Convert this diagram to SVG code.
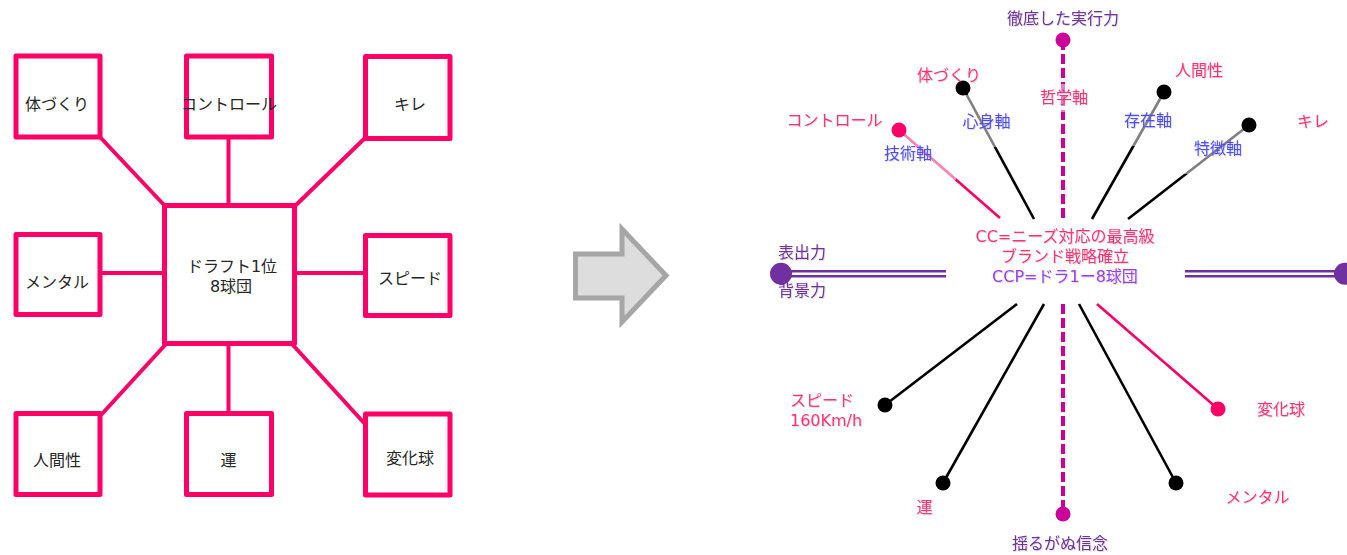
<svg xmlns="http://www.w3.org/2000/svg" width="1347" height="555" viewBox="0 0 1347 555">
<defs>
<style>
text{font-family:"DejaVu Sans","Noto Sans CJK JP",sans-serif;dominant-baseline:central}
.box{fill:#fff;stroke:#FF0066;stroke-width:5;stroke-linejoin:round}
.lt{font-size:16px;fill:#262626;text-anchor:middle}
.lc{stroke:#FF0066;stroke-width:4;fill:none}
.pk{fill:#FF3377}
.bl{fill:#4D4DFF}
.pu{fill:#7030A0}
.rt{font-size:16px;text-anchor:middle;filter:url(#sh)}
.ln{stroke:#000;stroke-width:2.6;fill:none}
.lnp{stroke:#FF0066;stroke-width:2.6;fill:none}
.dash{stroke:#CC0099;stroke-width:4;stroke-dasharray:10 4;fill:none}
.dbl{stroke:#7030A0;stroke-width:2.6;fill:none}
.bg{fill:#fff;fill-opacity:0.5}
</style>
<filter id="sh" x="-10%" y="-30%" width="130%" height="170%">
<feDropShadow dx="0.8" dy="0.8" stdDeviation="0.7" flood-color="#888" flood-opacity="0.35"/>
</filter>
</defs>
<rect width="1347" height="555" fill="#fff"/>

<!-- left diagram connectors -->
<g id="left-connectors">
<line class="lc" x1="100" y1="137" x2="165" y2="206"/>
<line class="lc" x1="228.5" y1="137" x2="228.5" y2="205"/>
<line class="lc" x1="365" y1="138" x2="295" y2="206"/>
<line class="lc" x1="100" y1="273" x2="164" y2="273"/>
<line class="lc" x1="295" y1="273" x2="365" y2="273"/>
<line class="lc" x1="166" y1="344" x2="101" y2="415"/>
<line class="lc" x1="228.5" y1="343" x2="228.5" y2="413"/>
<line class="lc" x1="292" y1="344" x2="365" y2="424"/>
</g>

<g id="l-taidukuri"><rect class="box" x="16" y="56" width="84" height="81"/><text class="lt" x="57" y="104.5">体づくり</text></g>
<g id="l-control"><rect class="box" x="186.5" y="56" width="85" height="81"/><text class="lt" x="229" y="104.5">コントロール</text></g>
<g id="l-kire"><rect class="box" x="365.5" y="56.5" width="84.5" height="82"/><text class="lt" x="410" y="104">キレ</text></g>
<g id="l-center"><rect class="box" x="164.5" y="205.5" width="130" height="138"/><text class="lt" x="232" y="266">ドラフト1位</text><text class="lt" x="231" y="286">8球団</text></g>
<g id="l-mental"><rect class="box" x="16" y="234.5" width="84" height="80"/><text class="lt" x="57" y="282">メンタル</text></g>
<g id="l-speed"><rect class="box" x="365.5" y="235.5" width="84.5" height="80"/><text class="lt" x="410" y="278">スピード</text></g>
<g id="l-ningensei"><rect class="box" x="16" y="413.5" width="84" height="81"/><text class="lt" x="57" y="460">人間性</text></g>
<g id="l-un"><rect class="box" x="186.5" y="413.5" width="85" height="81"/><text class="lt" x="228.5" y="460">運</text></g>
<g id="l-henkakyu"><rect class="box" x="365.5" y="414" width="84.5" height="81"/><text class="lt" x="410" y="458">変化球</text></g>

<!-- transition arrow -->
<g id="arrow">
<polygon points="575.5,254 622,254 622,229 666,275.5 622,322 622,298 575.5,298" fill="#DDDDDD" stroke="#A6A6A6" stroke-width="5" stroke-linejoin="miter"/>
</g>

<!-- right diagram connectors -->
<g id="right-connectors">
<line class="dash" x1="1063" y1="40" x2="1063" y2="218"/>
<line class="dash" x1="1063" y1="304" x2="1063" y2="514"/>
<line class="lnp" x1="899" y1="130" x2="1000" y2="218"/>
<line class="ln" x1="963" y1="88" x2="1034" y2="219"/>
<line class="ln" x1="1164" y1="92" x2="1092" y2="219"/>
<line class="ln" x1="1249" y1="125" x2="1128" y2="219"/>
<line class="ln" x1="1017" y1="304" x2="885" y2="405"/>
<line class="ln" x1="1044" y1="304" x2="943" y2="483"/>
<line class="ln" x1="1079" y1="304" x2="1176" y2="483"/>
<line class="lnp" x1="1097" y1="304" x2="1218" y2="409"/>
<line class="dbl" x1="781" y1="271.2" x2="946" y2="271.2"/>
<line class="dbl" x1="781" y1="276.2" x2="946" y2="276.2"/>
<line class="dbl" x1="1185" y1="271.2" x2="1347" y2="271.2"/>
<line class="dbl" x1="1185" y1="276.2" x2="1347" y2="276.2"/>
</g>

<!-- axis labels -->
<g id="r-axis-tetsugaku"><rect class="bg" x="1036" y="84" width="56" height="28"/><text class="rt pk" x="1064" y="97">哲学軸</text></g>
<g id="r-axis-gijutsu"><rect class="bg" x="862" y="128" width="94" height="52"/><text class="rt bl" x="908" y="153">技術軸</text></g>
<g id="r-axis-shinshin"><rect class="bg" x="950" y="95" width="72" height="52"/><text class="rt bl" x="986.5" y="121">心身軸</text></g>
<g id="r-axis-sonzai"><rect class="bg" x="1110" y="94" width="76" height="52"/><text class="rt bl" x="1148" y="120">存在軸</text></g>
<g id="r-axis-tokuchou"><rect class="bg" x="1182" y="122" width="76" height="52"/><text class="rt bl" x="1218" y="148">特徴軸</text></g>

<!-- endpoint nodes -->
<g id="r-jikkou"><circle cx="1063" cy="40" r="7.5" fill="#CC0099"/><text class="rt pu" x="1063" y="18">徹底した実行力</text></g>
<g id="r-shinnen"><circle cx="1063" cy="514" r="7.5" fill="#CC0099"/><text class="rt pu" x="1060" y="543">揺るがぬ信念</text></g>
<g id="r-control"><circle cx="899" cy="130" r="7.5" fill="#FF0066"/><text class="rt pk" x="834.5" y="120">コントロール</text></g>
<g id="r-taidukuri"><circle cx="963" cy="88" r="7.5" fill="#000"/><text class="rt pk" x="949" y="75">体づくり</text></g>
<g id="r-ningensei"><circle cx="1164" cy="92" r="7.5" fill="#000"/><text class="rt pk" x="1199" y="70">人間性</text></g>
<g id="r-kire"><circle cx="1249" cy="125" r="7.5" fill="#000"/><text class="rt pk" x="1313" y="121">キレ</text></g>
<g id="r-hyoushutsu"><circle cx="781" cy="273.7" r="11" fill="#7030A0"/><text class="rt pu" x="778" y="252" style="text-anchor:start">表出力</text><text class="rt pu" x="778" y="290" style="text-anchor:start">背景力</text></g>
<g id="r-right"><circle cx="1345" cy="273.7" r="11" fill="#7030A0"/></g>
<g id="r-speed"><circle cx="885" cy="405" r="7.5" fill="#000"/><text class="rt pk" x="790" y="400" style="text-anchor:start">スピード</text><text class="rt pk" x="790" y="420" style="text-anchor:start">160Km/h</text></g>
<g id="r-un"><circle cx="943" cy="483" r="7.5" fill="#000"/><text class="rt pk" x="924.5" y="507">運</text></g>
<g id="r-mental"><circle cx="1176" cy="483" r="7.5" fill="#000"/><text class="rt pk" x="1257.5" y="497">メンタル</text></g>
<g id="r-henkakyu"><circle cx="1218" cy="409" r="7.5" fill="#FF0066"/><text class="rt pk" x="1281" y="409">変化球</text></g>

<!-- center -->
<g id="r-center">
<text class="rt pk" x="1065" y="236">CC=ニーズ対応の最高級</text>
<text class="rt pk" x="1065" y="256">ブランド戦略確立</text>
<text class="rt" x="1065" y="276" style="fill:#9C3CF5">CCP=ドラ1ー8球団</text>
</g>
</svg>
